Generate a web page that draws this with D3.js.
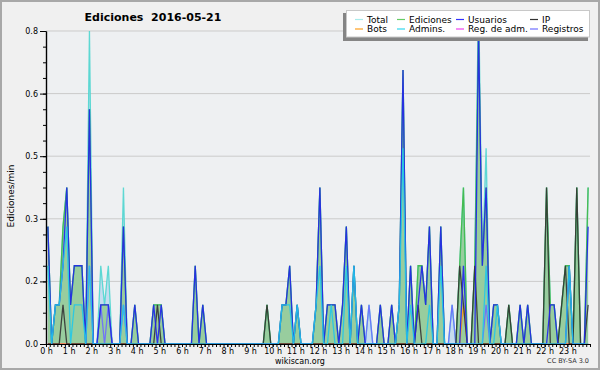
<!DOCTYPE html>
<html><head><meta charset="utf-8">
<script src="https://cdn.jsdelivr.net/npm/d3@7"></script>
<style>body{margin:0;background:#f0f0f0}svg{display:block}</style>
</head><body><svg id="c" width="600" height="370"></svg>
<script>
// 10-minute buckets, edits per minute
const hourLabels = d3.range(24).map(h => h + " h");
const yTickValues = [0, 0.16, 0.32, 0.48, 0.64, 0.8];
const yTickLabels = ["0.0", "0.2", "0.3", "0.5", "0.6", "0.8"];
const total = [
 .3,0,.1,.1,.3,.4,.1,.2,.2,.2,0,.8,
 0,0,.2,.1,.2,0,0,0,.4,0,0,.1,
 0,0,0,0,.1,.1,.1,0,0,0,0,0,
 0,0,0,.2,0,.1,0,0,0,0,0,0,
 0,0,0,0,0,0,0,0,0,0,.1,0,
 0,0,.1,.1,.2,0,.1,0,0,0,0,.1,
 .4,0,.1,.1,.1,0,.1,.3,0,.2,0,.1,
 0,.1,0,0,.1,0,0,.1,0,.1,.7,0,
 .2,0,.2,.2,.1,.3,0,0,.3,0,0,.1,
 0,.2,.4,0,0,.2,.9,.2,.5,0,.1,.1,
 0,0,.1,0,0,.1,0,.1,0,0,0,0,
 .4,.1,.1,0,.1,.2,.2,0,.4,0,0,.4];
const ediciones = [
 .3,0,.1,.1,.3,.4,.1,.2,.2,.2,0,.6,
 0,0,.1,.1,.1,0,0,0,.3,0,0,.1,
 0,0,0,0,.1,.1,.1,0,0,0,0,0,
 0,0,0,.2,0,.1,0,0,0,0,0,0,
 0,0,0,0,0,0,0,0,0,0,.1,0,
 0,0,.1,.1,.2,0,.1,0,0,0,0,.1,
 .4,0,.1,.1,.1,0,.1,.3,0,.2,0,.1,
 0,0,0,0,.1,0,0,.1,0,.1,.7,0,
 .2,0,.2,.2,.1,.3,0,0,.3,0,0,0,
 0,.2,.4,0,0,.2,.8,.2,.4,0,.1,.1,
 0,0,.1,0,0,.1,0,.1,0,0,0,0,
 .4,.1,.1,0,.1,.2,.2,0,.4,0,0,.4];
const usuarios = [
 .3,0,.1,.1,.2,.4,.1,.2,.2,.2,0,.6,
 0,0,.1,.1,.1,0,0,0,.3,0,0,.1,
 0,0,0,0,.1,0,.1,0,0,0,0,0,
 0,0,0,.2,0,.1,0,0,0,0,0,0,
 0,0,0,0,0,0,0,0,0,0,0,0,
 0,0,.1,.1,.2,0,.1,0,0,0,0,.1,
 .4,0,.1,.1,.1,0,.1,.3,0,.2,0,.1,
 0,0,0,0,.1,0,0,.1,0,.1,.7,0,
 .2,0,.1,.2,.1,.3,0,0,.3,0,0,0,
 0,0,.2,0,0,0,.8,.2,.4,0,.1,.1,
 0,0,0,0,0,.1,0,.1,0,0,0,0,
 0,.1,.1,0,0,0,.2,0,0,0,0,.3];
const ip = [
 0,0,0,0,.1,0,0,0,0,0,0,0,
 0,0,0,0,0,0,0,0,0,0,0,0,
 0,0,0,0,0,.1,0,0,0,0,0,0,
 0,0,0,0,0,0,0,0,0,0,0,0,
 0,0,0,0,0,0,0,0,0,0,.1,0,
 0,0,0,0,0,0,0,0,0,0,0,0,
 0,0,0,0,0,0,0,0,0,0,0,0,
 0,0,0,0,0,0,0,0,0,0,0,0,
 0,0,.1,0,0,0,0,0,0,0,0,0,
 0,.2,.1,0,0,.2,0,0,0,0,0,0,
 0,0,.1,0,0,0,0,0,0,0,0,0,
 .4,0,0,0,.1,.2,0,0,.4,0,0,.1];
const admins = [
 .2,0,.1,.1,.2,.3,0,.1,.1,.1,0,.2,
 0,0,0,0,0,0,0,0,.1,0,0,0,
 0,0,0,0,0,0,0,0,0,0,0,0,
 0,0,0,0,0,0,0,0,0,0,0,0,
 0,0,0,0,0,0,0,0,0,0,0,0,
 0,0,.1,.1,.1,0,.1,0,0,0,0,.1,
 .2,0,0,.1,0,0,0,.2,0,.2,0,0,
 0,0,0,0,0,0,0,0,0,.1,.5,0,
 .1,0,0,0,0,.1,0,0,.2,0,0,0,
 0,0,0,0,0,0,0,0,.2,0,0,.1,
 0,0,0,0,0,0,0,0,0,0,0,0,
 0,0,0,0,0,0,.2,0,0,0,0,0];
const bots = [
 0,0,0,0,0,0,0,0,0,0,0,0,
 0,0,0,0,0,0,0,0,0,0,0,0,
 0,0,0,0,0,0,0,0,0,0,0,0,
 0,0,0,0,0,0,0,0,0,0,0,0,
 0,0,0,0,0,0,0,0,0,0,0,0,
 0,0,0,0,0,0,0,0,0,0,0,0,
 0,0,0,0,0,0,0,0,0,0,0,0,
 0,0,0,0,0,0,0,0,0,0,0,0,
 0,0,0,0,0,0,0,0,0,0,0,0,
 0,0,.1,0,0,0,0,0,0,0,0,0,
 0,0,0,0,0,0,0,0,0,0,0,0,
 0,0,0,0,0,0,0,0,0,0,0,0];
const regAdm = new Array(144).fill(0);
const registros = [
 0,0,0,0,0,0,0,0,0,0,0,.2,
 0,0,.1,0,.1,0,0,0,.1,0,0,0,
 0,0,0,0,0,0,0,0,0,0,0,0,
 0,0,0,0,0,0,0,0,0,0,0,0,
 0,0,0,0,0,0,0,0,0,0,0,0,
 0,0,0,0,0,0,0,0,0,0,0,0,
 0,0,0,0,0,0,0,0,0,0,0,0,
 0,.1,0,0,0,0,0,0,0,0,0,0,
 0,0,0,0,0,0,0,0,0,0,0,.1,
 0,0,0,0,0,0,0,0,.1,0,0,0,
 0,0,0,0,0,0,0,0,0,0,0,0,
 0,0,0,0,0,0,0,0,0,0,0,0];

const svg = d3.select("#c");
const W = 600, H = 370;
const L = 46, R = 590, T = 31, B = 344;
const FONT = "DejaVu Sans, sans-serif";

svg.append("rect").attr("x", 1).attr("y", 1).attr("width", W - 2).attr("height", H - 2)
  .attr("fill", "#f0f0f0").attr("stroke", "#a8a8a8").attr("stroke-width", 2);
svg.append("rect").attr("x", L).attr("y", T).attr("width", R - L).attr("height", B - T).attr("fill", "#eef0f2");

const x = d3.scaleLinear().domain([0, 1440]).range([L, R]);
const y = d3.scaleLinear().domain([0, 0.8]).range([B, T]);
const xm = i => x(i * 10 + 5);

// grid
svg.append("g").selectAll("line").data(yTickValues.slice(1)).join("line")
  .attr("x1", L).attr("x2", R).attr("y1", d => y(d)).attr("y2", d => y(d))
  .attr("stroke", "#cbcbcb").attr("stroke-width", 1);

svg.append("clipPath").attr("id", "clip").append("rect")
  .attr("x", L).attr("y", T).attr("width", R - L).attr("height", B - T);
const g = svg.append("g").attr("clip-path", "url(#clip)");

const area = d3.area().x((d, i) => xm(i)).y0(y(0)).y1(d => y(d));
const line = d3.line().x((d, i) => xm(i)).y(d => y(d));

g.append("path").datum(total).attr("d", area).attr("fill", "#c6dcef");
g.append("path").datum(ediciones).attr("d", area).attr("fill", "#98cd9e");

const lineSeries = [
  {v: total, c: "#4fd6cf"},
  {v: ediciones, c: "#44b844"},
  {v: registros, c: "#6b6bff"},
  {v: regAdm, c: "#ee44ee"},
  {v: bots, c: "#ff9a1a"},
  {v: ip, c: "#333333"},
  {v: usuarios, c: "#2222f0"},
  {v: admins, c: "#22c8e8"}
];
lineSeries.forEach(s => {
  g.append("path").datum(s.v).attr("d", line).attr("fill", "none")
    .attr("stroke", s.c).attr("stroke-width", 1.3).attr("stroke-opacity", 0.9);
});

// axes
const yMinor = svg.append("g").attr("transform", `translate(${L},0)`)
  .call(d3.axisLeft(y).tickValues(d3.range(0, 0.8001, 0.04)).tickSize(3).tickSizeOuter(0).tickFormat(""));
const yMajor = svg.append("g").attr("transform", `translate(${L},0)`)
  .call(d3.axisLeft(y).tickValues(yTickValues).tickSize(6).tickSizeOuter(0).tickPadding(2)
    .tickFormat((d, i) => yTickLabels[i]));
const xMinor = svg.append("g").attr("transform", `translate(0,${B})`)
  .call(d3.axisBottom(x).tickValues(d3.range(0, 1441, 10)).tickSize(3).tickSizeOuter(0).tickFormat(""));
const xMajor = svg.append("g").attr("transform", `translate(0,${B})`)
  .call(d3.axisBottom(x).tickValues(d3.range(0, 24).map(h => h * 60)).tickSize(3).tickSizeOuter(0).tickPadding(1)
    .tickFormat((d, i) => hourLabels[i]));
[yMinor, yMajor, xMinor, xMajor].forEach(a => {
  a.selectAll("path").attr("stroke", "#000").attr("stroke-width", 1.2);
  a.selectAll("line").attr("stroke", "#000");
  a.selectAll("text").attr("font-family", FONT).attr("font-size", 8).attr("fill", "#000");
});

// title & labels
svg.append("text").attr("x", 153).attr("y", 20.5).attr("text-anchor", "middle")
  .attr("font-family", FONT).attr("font-weight", "bold").attr("font-size", 11)
  .style("white-space", "pre").text("Ediciones  2016-05-21");
svg.append("text").attr("transform", "translate(14,196) rotate(-90)").attr("text-anchor", "middle")
  .attr("font-family", FONT).attr("font-size", 9).text("Ediciones/min");
svg.append("text").attr("x", 300).attr("y", 364).attr("text-anchor", "middle")
  .attr("font-family", FONT).attr("font-size", 8).text("wikiscan.org");
svg.append("text").attr("x", 589).attr("y", 363).attr("text-anchor", "end")
  .attr("font-family", FONT).attr("font-size", 6.5).attr("fill", "#333").text("CC BY-SA 3.0");

// legend
const legendNames = ["Total", "Ediciones", "Usuarios", "IP", "Bots", "Admins.", "Reg. de adm.", "Registros"];
const legendColors = ["#a8ecec", "#66cc66", "#3333ff", "#333333", "#ffa020", "#33d8ee", "#ee44ee", "#6f6fff"];
const colX = [355, 397, 456, 530];
const rowY = [19.5, 29];
const lg = svg.append("g");
lg.append("rect").attr("x", 343).attr("y", 13).attr("width", 245).attr("height", 28).attr("fill", "#858585");
lg.append("rect").attr("x", 346.5).attr("y", 10.5).attr("width", 243).attr("height", 26.5)
  .attr("fill", "#fff").attr("stroke", "#c8c8c8");
legendNames.forEach((n, i) => {
  const cx = colX[i % 4], cy = rowY[Math.floor(i / 4)];
  lg.append("line").attr("x1", cx).attr("x2", cx + 8).attr("y1", cy).attr("y2", cy)
    .attr("stroke", legendColors[i]).attr("stroke-width", 1.2);
  lg.append("text").attr("x", cx + 12).attr("y", cy + 3.3).attr("font-family", FONT)
    .attr("font-size", 9).text(n);
});
</script></body></html>
